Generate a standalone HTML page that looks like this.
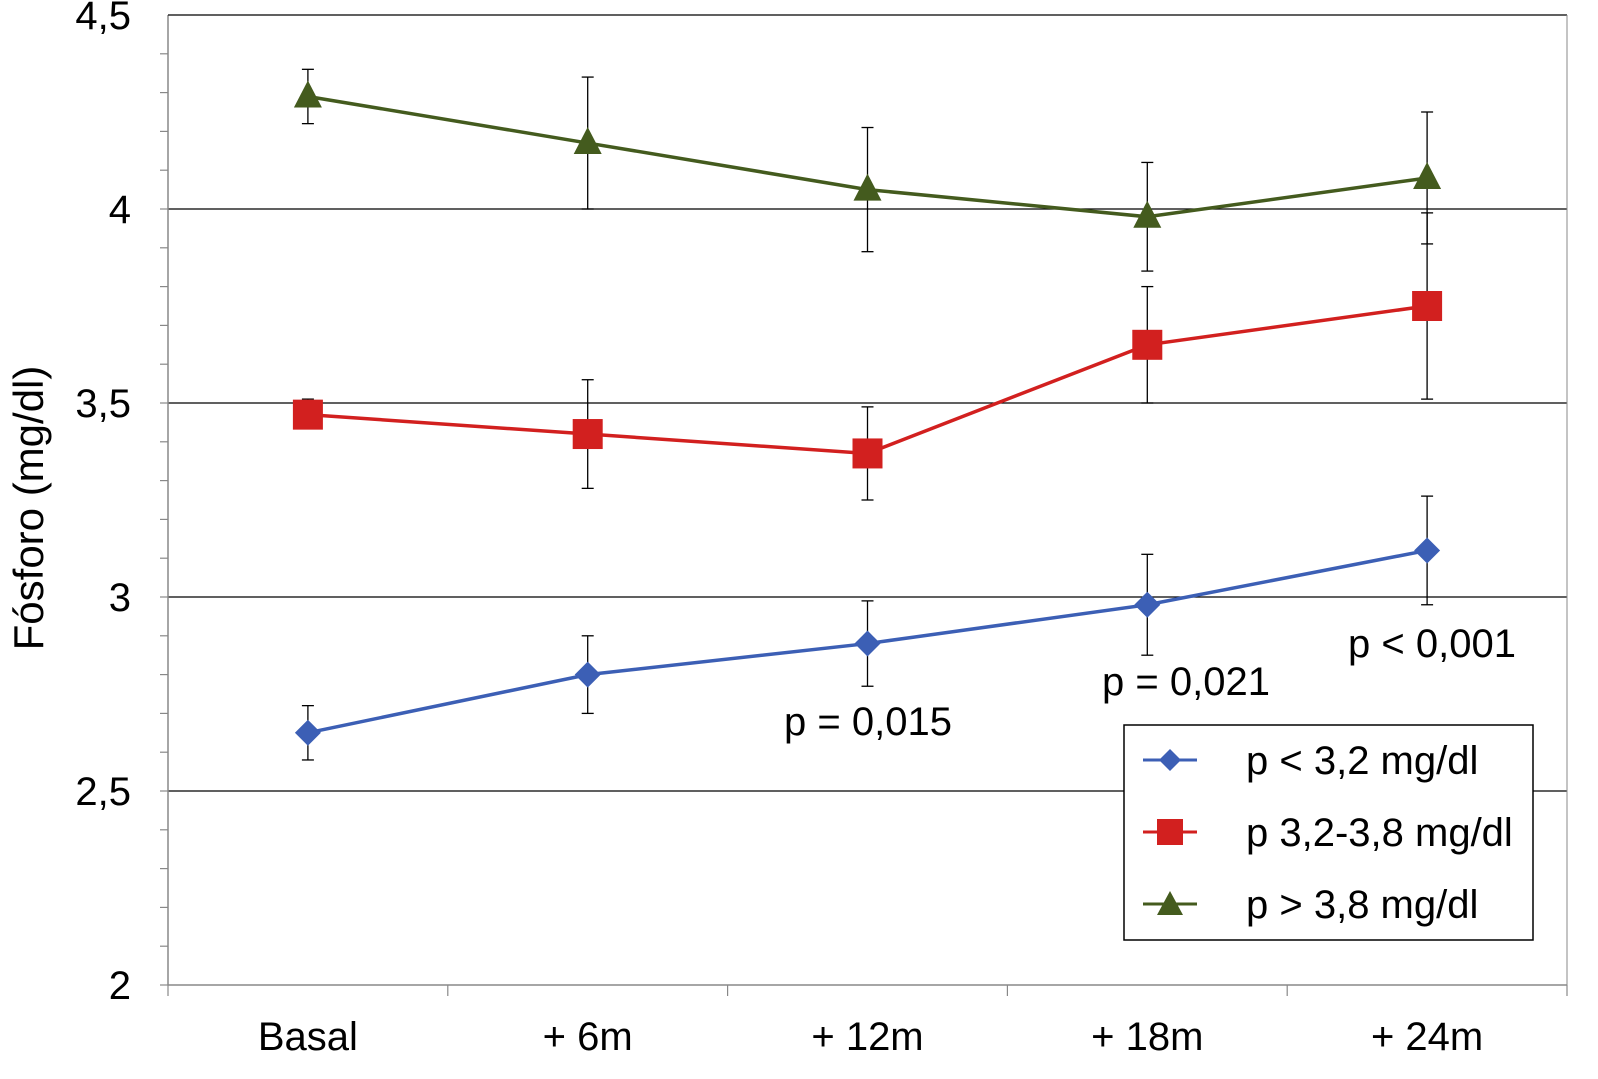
<!DOCTYPE html>
<html><head><meta charset="utf-8">
<style>
body{margin:0;background:#fff;}
svg{display:block;font-family:"Liberation Sans",Arial,sans-serif;}
</style></head>
<body>
<svg id="chart" width="1598" height="1079" viewBox="0 0 1598 1079" xmlns="http://www.w3.org/2000/svg">
<g id="grid"></g>
<g id="axes"></g>
<g id="series"></g>
<text x="0" y="0" transform="translate(43,508) rotate(-90)" text-anchor="middle" font-size="42">Fósforo (mg/dl)</text>
<text x="868" y="735" text-anchor="middle" font-size="40">p = 0,015</text>
<text x="1186" y="695" text-anchor="middle" font-size="40">p = 0,021</text>
<text x="1432" y="657" text-anchor="middle" font-size="40">p &lt; 0,001</text>
<g>
<rect x="1124" y="725" width="409" height="215" fill="#fff" stroke="#000" stroke-width="1.5"/>
<g>
<line x1="1143" y1="760" x2="1197" y2="760" stroke="#3c5fb5" stroke-width="3"/>
<path d="M1170 749 L1181 760 L1170 771 L1159 760 Z" fill="#3c5fb5"/>
<text x="1246" y="774" font-size="40">p &lt; 3,2 mg/dl</text></g>
<g>
<line x1="1143" y1="832" x2="1197" y2="832" stroke="#d2201f" stroke-width="3"/>
<rect x="1157" y="819" width="26" height="26" fill="#d2201f"/>
<text x="1246" y="846" font-size="40">p 3,2-3,8 mg/dl</text></g>
<g>
<line x1="1143" y1="904" x2="1197" y2="904" stroke="#445b1e" stroke-width="3"/>
<path d="M1170 891 L1183 915 L1157 915 Z" fill="#445b1e"/>
<text x="1246" y="918" font-size="40">p &gt; 3,8 mg/dl</text></g>
</g>
</svg>
<script>
const categories=["Basal","+ 6m","+ 12m","+ 18m","+ 24m"];
const yTicks=[2,2.5,3,3.5,4,4.5];
const yTickLabels=["2","2,5","3","3,5","4","4,5"];
const lowMean=[2.65,2.80,2.88,2.98,3.12];
const lowHi=[2.72,2.90,2.99,3.11,3.26];
const lowLo=[2.58,2.70,2.77,2.85,2.98];
const midMean=[3.47,3.42,3.37,3.65,3.75];
const midHi=[3.51,3.56,3.49,3.80,3.99];
const midLo=[3.47,3.28,3.25,3.50,3.51];
const highMean=[4.29,4.17,4.05,3.98,4.08];
const highHi=[4.36,4.34,4.21,4.12,4.25];
const highLo=[4.22,4.00,3.89,3.84,3.91];

const NS="http://www.w3.org/2000/svg";
const L=168,R=1567,T=15,B=985,ymin=2,ymax=4.5;
const xs=i=>L+(R-L)/categories.length*(i+0.5);
const ys=v=>B-(v-ymin)/(ymax-ymin)*(B-T);
function mk(tag,attrs,parent){const e=document.createElementNS(NS,tag);for(const k in attrs)e.setAttribute(k,attrs[k]);parent.appendChild(e);return e;}
const grid=document.getElementById('grid'),axes=document.getElementById('axes'),ser=document.getElementById('series');
yTicks.forEach((v,i)=>{
  if(i>0){const g=mk('line',{x1:L,x2:R,y1:ys(v),y2:ys(v),stroke:'#000','stroke-width':1.3},grid);
  
  }
  const t=mk('text',{x:131,y:ys(v)+14,'text-anchor':'end','font-size':40},axes);t.textContent=yTickLabels[i];
  
  
});
for(let v=ymin;v<ymax-1e-9;v+=0.1){mk('line',{x1:L-8,x2:L,y1:ys(v),y2:ys(v),stroke:'#888','stroke-width':1.2},axes);}
mk('line',{x1:L,x2:L,y1:T,y2:B,stroke:'#888','stroke-width':1.5},axes);
mk('line',{x1:L,x2:R,y1:T,y2:T,stroke:'#000','stroke-width':1},axes);
mk('line',{x1:R,x2:R,y1:T,y2:B,stroke:'#888','stroke-width':1},axes);
mk('line',{x1:L,x2:R,y1:B,y2:B,stroke:'#888','stroke-width':1.5},axes);
for(let i=0;i<=categories.length;i++){const x=L+(R-L)/categories.length*i;mk('line',{x1:x,x2:x,y1:B,y2:B+11,stroke:'#888','stroke-width':1.2},axes);}
categories.forEach((c,i)=>{const t=mk('text',{x:xs(i),y:1050,'text-anchor':'middle','font-size':40},axes);t.textContent=c;
  
  });
function series(mean,hi,lo,color,shape,name){
  const g=mk('g',{},ser);
  
  
  mean.forEach((v,i)=>{const x=xs(i);
    mk('line',{x1:x,x2:x,y1:ys(hi[i]),y2:ys(lo[i]),stroke:'#000','stroke-width':1.3},g);
    mk('line',{x1:x-6,x2:x+6,y1:ys(hi[i]),y2:ys(hi[i]),stroke:'#000','stroke-width':1.3},g);
    mk('line',{x1:x-6,x2:x+6,y1:ys(lo[i]),y2:ys(lo[i]),stroke:'#000','stroke-width':1.3},g);});
  mk('polyline',{points:mean.map((v,i)=>xs(i)+','+ys(v)).join(' '),fill:'none',stroke:color,'stroke-width':3.5},g);
  mean.forEach((v,i)=>{const x=xs(i),y=ys(v);let m;
    if(shape==='d')m=mk('path',{d:`M${x} ${y-13}L${x+13} ${y}L${x} ${y+13}L${x-13} ${y}Z`,fill:color},g);
    else if(shape==='s')m=mk('rect',{x:x-15,y:y-15,width:30,height:30,fill:color},g);
    else m=mk('path',{d:`M${x} ${y-16}L${x+14} ${y+11}L${x-14} ${y+11}Z`,fill:color},g);
    
    });
}
series(lowMean,lowHi,lowLo,'#3c5fb5','d','series-low');
series(midMean,midHi,midLo,'#d2201f','s','series-mid');
series(highMean,highHi,highLo,'#445b1e','t','series-high');
</script>
</body></html>
